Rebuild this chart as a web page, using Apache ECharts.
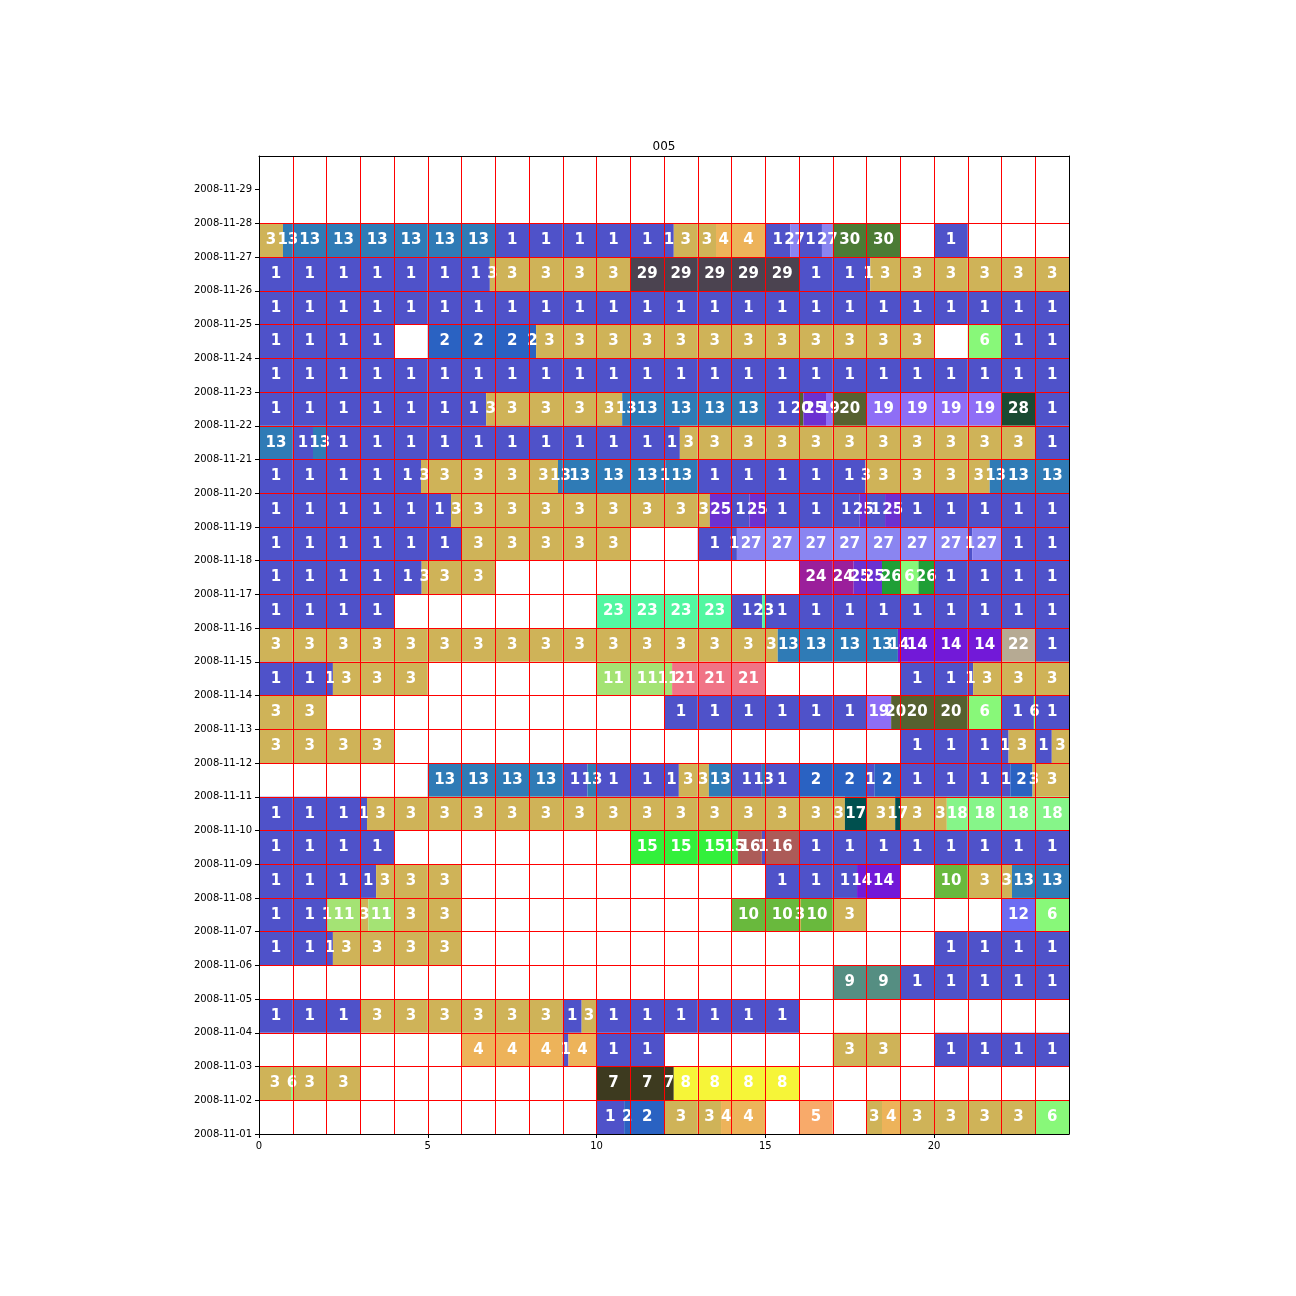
<!DOCTYPE html>
<html>
<head>
<meta charset="utf-8">
<script src="https://cdn.jsdelivr.net/npm/echarts@6/dist/echarts.min.js"></script>
<style>
  html, body { margin: 0; padding: 0; background: #fff; }
  #main { width: 1296px; height: 1296px; }
</style>
</head>
<body>
<div id="main"></div>
<script>
// y tick labels (one per day boundary, bottom to top)
var dateLabels = ['2008-11-01', '2008-11-02', '2008-11-03', '2008-11-04', '2008-11-05',
    '2008-11-06', '2008-11-07', '2008-11-08', '2008-11-09', '2008-11-10', '2008-11-11',
    '2008-11-12', '2008-11-13', '2008-11-14', '2008-11-15', '2008-11-16', '2008-11-17',
    '2008-11-18', '2008-11-19', '2008-11-20', '2008-11-21', '2008-11-22', '2008-11-23',
    '2008-11-24', '2008-11-25', '2008-11-26', '2008-11-27', '2008-11-28', '2008-11-29'];

var hourTicks = [0, 5, 10, 15, 20];

// colour of each cluster id (index = cluster)
var clusterColors = ['#ffffff', '#4f52c9', '#2a62c2', '#cfb358', '#edb35a', '#f8aa6a',
    '#88f879', '#3d3a1f', '#f6f538', '#558e82', '#69b93d', '#a4e374', '#6d6cf2',
    '#2f7bb6', '#7219d8', '#32f03b', '#ac5b58', '#00504f', '#86f589', '#8e6ef6',
    '#566130', '#f07486', '#b6aa93', '#52f7a1', '#9b1f9b', '#6b31d1', '#1f9f36',
    '#8a85f1', '#1a4a32', '#4b4350', '#4b7b35'];

// [day of month, start hour, end hour, cluster]
var segments = [
    [27, 0, 0.71, 3], [27, 0.71, 7, 13], [27, 7, 12.29, 1], [27, 12.29, 13.54, 3], [27, 13.54, 15, 4],
    [27, 15, 15.74, 1], [27, 15.74, 16, 27], [27, 16, 16.68, 1], [27, 16.68, 17, 27], [27, 17, 19, 30],
    [27, 20, 21, 1],
    [26, 0, 6.84, 1], [26, 6.84, 11, 3], [26, 11, 16, 29], [26, 16, 18.11, 1], [26, 18.11, 24, 3],
    [25, 0, 24, 1],
    [24, 0, 4, 1], [24, 5, 8.21, 2], [24, 8.21, 20, 3], [24, 21, 22, 6], [24, 22, 24, 1],
    [23, 0, 24, 1],
    [22, 0, 6.73, 1], [22, 6.73, 10.76, 3], [22, 10.76, 15, 13], [22, 15, 16, 1], [22, 16, 16.13, 20],
    [22, 16.13, 16.8, 25], [22, 16.8, 17, 19], [22, 17, 18, 20], [22, 18, 22, 19], [22, 22, 23, 28],
    [22, 23, 24, 1],
    [21, 0, 1, 13], [21, 1, 1.6, 1], [21, 1.6, 2, 13], [21, 2, 12.47, 1], [21, 12.47, 23, 3], [21, 23, 24, 1],
    [20, 0, 4.8, 1], [20, 4.8, 8.86, 3], [20, 8.86, 12, 13], [20, 12, 12.05, 1], [20, 12.05, 13, 13],
    [20, 13, 17.97, 1], [20, 17.97, 21.65, 3], [20, 21.65, 24, 13],
    [19, 0, 5.69, 1], [19, 5.69, 13.36, 3], [19, 13.36, 14, 25], [19, 14, 14.53, 1], [19, 14.53, 15, 25],
    [19, 15, 17.8, 1], [19, 17.8, 18, 25], [19, 18, 18.55, 1], [19, 18.55, 19, 25], [19, 19, 24, 1],
    [18, 0, 6, 1], [18, 6, 11, 3], [18, 13, 14.16, 1], [18, 14.16, 21, 27], [18, 21, 21.13, 1],
    [18, 21.13, 22, 27], [18, 22, 24, 1],
    [17, 0, 4.82, 1], [17, 4.82, 7, 3], [17, 16, 17.62, 24], [17, 17.62, 18.46, 25], [17, 18.46, 19, 26],
    [17, 19, 19.54, 6], [17, 19.54, 20, 26], [17, 20, 24, 1],
    [16, 0, 4, 1], [16, 10, 14, 23], [16, 14, 14.91, 1], [16, 14.91, 15, 23], [16, 15, 24, 1],
    [15, 0, 15.37, 3], [15, 15.37, 18.93, 13], [15, 18.93, 22, 14], [15, 22, 23, 22], [15, 23, 24, 1],
    [14, 0, 2.19, 1], [14, 2.19, 5, 3], [14, 10, 12.24, 11], [14, 12.24, 15, 21], [14, 19, 21.16, 1],
    [14, 21.16, 24, 3],
    [13, 0, 2, 3], [13, 12, 18, 1], [13, 18, 18.73, 19], [13, 18.73, 21, 20], [13, 21, 22, 6],
    [13, 22, 22.96, 1], [13, 22.96, 23, 6], [13, 23, 24, 1],
    [12, 0, 4, 3], [12, 19, 22.21, 1], [12, 22.21, 23, 3], [12, 23, 23.49, 1], [12, 23.49, 24, 3],
    [11, 5, 9, 13], [11, 9, 9.73, 1], [11, 9.73, 10, 13], [11, 10, 12.44, 1], [11, 12.44, 13.33, 3],
    [11, 13.33, 14, 13], [11, 14, 14.9, 1], [11, 14.9, 15, 13], [11, 15, 16, 1], [11, 16, 18, 2],
    [11, 18, 18.23, 1], [11, 18.23, 19, 2], [11, 19, 22.26, 1], [11, 22.26, 22.92, 2], [11, 22.92, 24, 3],
    [10, 0, 3.2, 1], [10, 3.2, 17.36, 3], [10, 17.36, 18, 17], [10, 18, 18.85, 3], [10, 18.85, 19, 17],
    [10, 19, 20.38, 3], [10, 20.38, 24, 18],
    [9, 0, 4, 1], [9, 11, 14.19, 15], [9, 14.19, 14.9, 16], [9, 14.9, 15, 1], [9, 15, 16, 16], [9, 16, 24, 1],
    [8, 0, 3.47, 1], [8, 3.47, 6, 3], [8, 15, 17.72, 1], [8, 17.72, 19, 14], [8, 20, 21, 10],
    [8, 21, 22.31, 3], [8, 22.31, 24, 13],
    [7, 0, 2.03, 1], [7, 2.03, 3, 11], [7, 3, 3.24, 3], [7, 3.24, 4, 11], [7, 4, 6, 3], [7, 14, 16, 10],
    [7, 16, 16.06, 3], [7, 16.06, 17, 10], [7, 17, 18, 3], [7, 22, 23, 12], [7, 23, 24, 6],
    [6, 0, 2.19, 1], [6, 2.19, 6, 3], [6, 20, 24, 1],
    [5, 17, 19, 9], [5, 19, 24, 1],
    [4, 0, 3, 1], [4, 3, 9, 3], [4, 9, 9.56, 1], [4, 9.56, 10, 3], [4, 10, 16, 1],
    [3, 6, 9, 4], [3, 9, 9.17, 1], [3, 9.17, 10, 4], [3, 10, 12, 1], [3, 17, 19, 3], [3, 20, 24, 1],
    [2, 0, 0.95, 3], [2, 0.95, 1, 6], [2, 1, 3, 3], [2, 10, 12.29, 7], [2, 12.29, 16, 8],
    [1, 10, 10.82, 1], [1, 10.82, 12, 2], [1, 12, 13.69, 3], [1, 13.69, 15, 4], [1, 16, 17, 5],
    [1, 18, 18.46, 3], [1, 18.46, 19, 4], [1, 19, 23, 3], [1, 23, 24, 6]
];

// every segment is cut at the hour lines, each piece gets its own label
var pieces = [];
segments.forEach(function (s) {
    var start = s[1], end = s[2];
    for (var h = Math.floor(start); h < end; h++) {
        var a = Math.max(start, h), b = Math.min(end, h + 1);
        if (b - a > 0.001) pieces.push([a, b, s[0] - 1, s[3]]);
    }
});

function renderItem(params, api) {
    var row = api.value(2);
    var c = api.value(3);
    var p0 = api.coord([api.value(0), row + 1]);
    var p1 = api.coord([api.value(1), row]);
    return {
        type: 'group',
        children: [{
            type: 'rect',
            shape: { x: p0[0], y: p0[1], width: p1[0] - p0[0], height: p1[1] - p0[1] },
            style: { fill: clusterColors[c] }
        }, {
            type: 'text',
            z2: 100,
            style: {
                x: (p0[0] + p1[0]) / 2,
                y: (p0[1] + p1[1]) / 2,
                text: String(c),
                fill: '#ffffff',
                font: 'bold 15px "DejaVu Sans"',
                align: 'center',
                verticalAlign: 'middle'
            }
        }]
    };
}

var chart = echarts.init(document.getElementById('main'));
var option = {
    animation: false,
    backgroundColor: '#ffffff',
    title: {
        text: '005',
        left: 659,
        top: 136,
        textAlign: 'center',
        textStyle: { fontSize: 12, fontWeight: 'normal', color: '#000', fontFamily: 'DejaVu Sans' }
    },
    grid: { left: 259, right: 227, top: 156, bottom: 162 },
    xAxis: [{
        type: 'value', position: 'bottom', min: 0, max: 24, interval: 5, z: 10,
        axisLine: { show: true, lineStyle: { color: '#000', width: 1 } },
        axisTick: { show: true, length: 4, lineStyle: { color: '#000' },
            customValues: hourTicks },
        axisLabel: { margin: 7, color: '#000', fontSize: 10, fontFamily: 'DejaVu Sans',
            customValues: hourTicks },
        splitLine: { show: false }
    }, {
        type: 'value', position: 'top', min: 0, max: 24, interval: 1, z: 10,
        axisLine: { show: true, onZero: false, lineStyle: { color: '#000', width: 1 } },
        axisTick: { show: false },
        axisLabel: { show: false },
        splitLine: { show: true, showMinLine: false, showMaxLine: false,
            lineStyle: { color: '#ff0000', width: 1 } }
    }],
    yAxis: [{
        type: 'value', position: 'left', min: 0, max: 29, interval: 1, z: 10,
        axisLine: { show: true, onZero: false, lineStyle: { color: '#000', width: 1 } },
        axisTick: { show: true, length: 4, lineStyle: { color: '#000' },
            customValues: dateLabels.map(function (d, i) { return i; }) },
        axisLabel: {
            margin: 7, color: '#000', fontSize: 10, fontFamily: 'DejaVu Sans',
            formatter: function (v) { return dateLabels[v] || ''; }
        },
        splitLine: { show: true, showMinLine: false, showMaxLine: false,
            lineStyle: { color: '#ff0000', width: 1 } }
    }, {
        type: 'value', position: 'right', min: 0, max: 29, interval: 1, z: 10,
        axisLine: { show: true, onZero: false, lineStyle: { color: '#000', width: 1 } },
        axisTick: { show: false },
        axisLabel: { show: false },
        splitLine: { show: false }
    }],
    series: [{
        type: 'custom',
        xAxisIndex: 0,
        yAxisIndex: 0,
        renderItem: renderItem,
        encode: { x: [0, 1], y: 2 },
        data: pieces
    }]
};
chart.setOption(option);
</script>
</body>
</html>
